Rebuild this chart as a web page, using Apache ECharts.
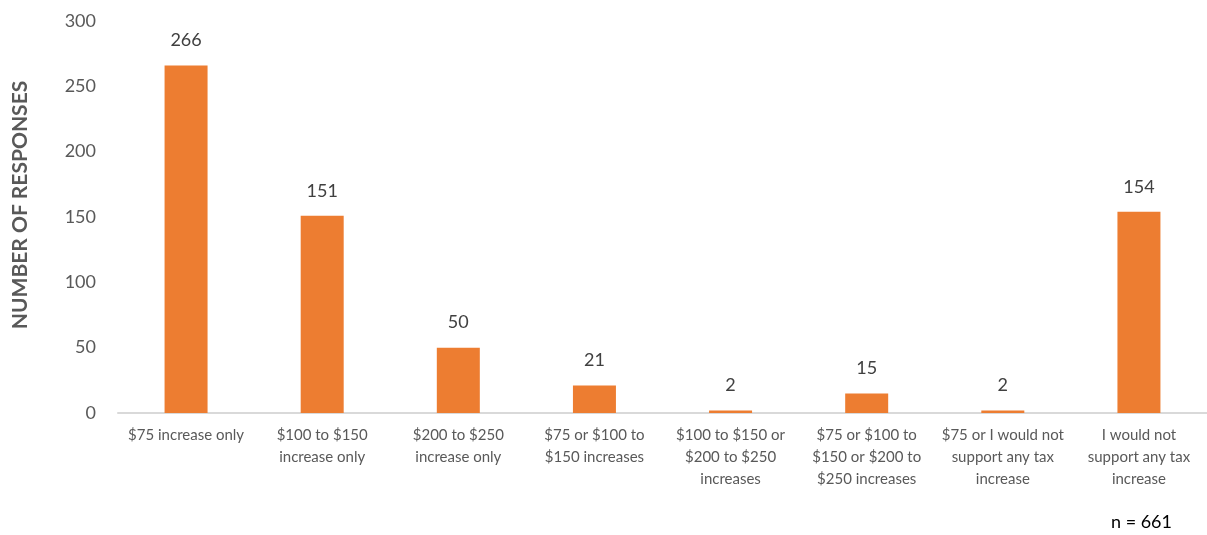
<!DOCTYPE html>
<html><head><meta charset="utf-8">
<script src="https://cdn.jsdelivr.net/npm/echarts@6/dist/echarts.min.js"></script>
<style>html,body{margin:0;padding:0;background:#fff}#c{width:1207px;height:535px}</style>
</head><body><div id="c"></div>
<script>
const categories = [
  "$75 increase only",
  "$100 to $150\nincrease only",
  "$200 to $250\nincrease only",
  "$75 or $100 to\n$150 increases",
  "$100 to $150 or\n$200 to $250\nincreases",
  "$75 or $100 to\n$150 or $200 to\n$250 increases",
  "$75 or I would not\nsupport any tax\nincrease",
  "I would not\nsupport any tax\nincrease"
];
const responses = [266, 151, 50, 21, 2, 15, 2, 154];
const yTicks = { min: 0, max: 300, interval: 50 };
const axisTitle = "NUMBER OF RESPONSES";
const note = "n = 661";

const font = "Lato, 'Noto Sans', sans-serif";
const chart = echarts.init(document.getElementById('c'));
chart.setOption({
  animation: false,
  grid: { left: 118, top: 21, width: 1094, bottom: 122 },
  xAxis: {
    type: 'category', data: categories,
    axisLine: { lineStyle: { color: '#d9d9d9', width: 2 } },
    axisTick: { show: false },
    axisLabel: { interval: 0, color: '#595959', fontSize: 15, lineHeight: 22, margin: 11, fontFamily: font }
  },
  yAxis: {
    type: 'value', min: yTicks.min, max: yTicks.max, interval: yTicks.interval,
    axisLine: { show: false }, axisTick: { show: false },
    splitLine: { show: false },
    axisLabel: { color: '#595959', fontSize: 18, margin: 22, fontFamily: font }
  },
  series: [{
    type: 'bar', data: responses, barWidth: 43,
    itemStyle: { color: '#ED7D31' },
    label: { show: true, position: 'top', distance: 16, color: '#404040', fontSize: 18, fontFamily: font }
  }],
  graphic: [{
    type: 'text', x: 20, y: 205, rotation: Math.PI / 2,
    style: { text: axisTitle, fill: '#595959', fontSize: 21, fontWeight: 'bold', fontFamily: font,
             align: 'center', verticalAlign: 'middle' }
  }, {
    type: 'text', right: 35, top: 513,
    style: { text: note, fill: '#000', fontSize: 18, fontFamily: font }
  }]
});
</script></body></html>
